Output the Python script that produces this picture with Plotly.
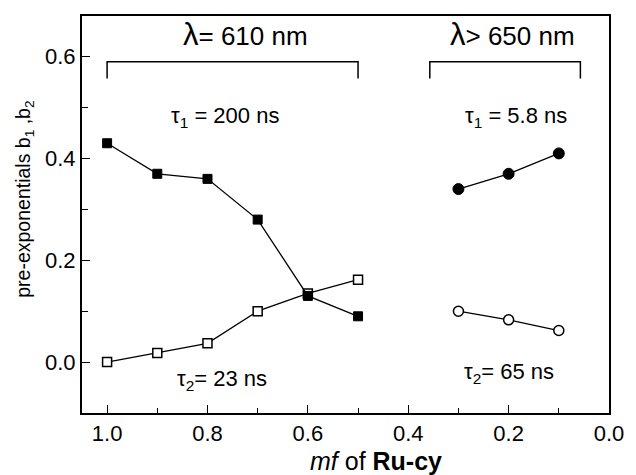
import plotly.graph_objects as go

# ---- data ----
mf_610 = [1.0, 0.9, 0.8, 0.7, 0.6, 0.5]
b1_610 = [0.43, 0.37, 0.36, 0.28, 0.13, 0.09]
b2_610 = [0.0, 0.018, 0.037, 0.10, 0.135, 0.162]

mf_650 = [0.3, 0.2, 0.1]
b1_650 = [0.34, 0.37, 0.41]
b2_650 = [0.10, 0.083, 0.062]

bracket_610_x = [1.0, 1.0, 0.5, 0.5]
bracket_650_x = [0.357, 0.357, 0.057, 0.057]
bracket_y = [0.557, 0.59, 0.59, 0.557]

x_ticks = [1.0, 0.8, 0.6, 0.4, 0.2, 0.0]
x_ticklabels = ["1.0", "0.8", "0.6", "0.4", "0.2", "0.0"]
y_ticks = [0.0, 0.2, 0.4, 0.6]
y_ticklabels = ["0.0", "0.2", "0.4", "0.6"]

FONT = "Liberation Sans, Arial, sans-serif"

fig = go.Figure()

line = dict(color="black", width=1.3)

fig.add_trace(go.Scatter(x=mf_610, y=b2_610, mode="lines+markers", line=line,
                         marker=dict(symbol="square", size=9, color="white",
                                     line=dict(color="black", width=1.5))))
fig.add_trace(go.Scatter(x=mf_610, y=b1_610, mode="lines+markers", line=line,
                         marker=dict(symbol="square", size=9, color="black",
                                     line=dict(color="black", width=1))))
fig.add_trace(go.Scatter(x=mf_650, y=b1_650, mode="lines+markers", line=line,
                         marker=dict(symbol="circle", size=11, color="black",
                                     line=dict(color="black", width=1))))
fig.add_trace(go.Scatter(x=mf_650, y=b2_650, mode="lines+markers", line=line,
                         marker=dict(symbol="circle", size=10, color="white",
                                     line=dict(color="black", width=1.5))))
for bx in (bracket_610_x, bracket_650_x):
    fig.add_trace(go.Scatter(x=bx, y=bracket_y, mode="lines",
                             line=dict(color="black", width=1.5)))

LAM = '<span style="font-size:31px">λ</span>'
ann = [
    (LAM + "= 610 nm", 0.725, 0.643, 26),
    (LAM + "> 650 nm", 0.192, 0.643, 26),
    ("τ<sub>1</sub> = 200 ns", 0.765, 0.482, 22),
    ("τ<sub>1</sub> = 5.8 ns", 0.186, 0.482, 22),
    ("τ<sub>2</sub>= 23 ns", 0.772, -0.036, 22),
    ("τ<sub>2</sub>= 65 ns", 0.20, -0.022, 22),
]
for t, x, y, s in ann:
    fig.add_annotation(x=x, y=y, text=t, showarrow=False, xref="x", yref="y",
                       font=dict(family=FONT, size=s, color="black"))

# axis titles placed as annotations (positions measured from reference,
# converted from pixels to plot-area paper coordinates)
L, R, T, B = 82, 616, 16, 413
fig.add_annotation(x=(380 - L) / (R - L), y=(B - 461) / (B - T),
                   xref="paper", yref="paper", xanchor="center", yanchor="middle",
                   text="<i>mf</i> of <b>Ru-cy</b>", showarrow=False,
                   font=dict(family=FONT, size=25, color="black"))
fig.add_annotation(x=(23 - L) / (R - L), y=(B - 199) / (B - T),
                   xref="paper", yref="paper", xanchor="center", yanchor="middle",
                   text="pre-exponentials b<sub>1</sub> ,b<sub>2</sub>", showarrow=False,
                   textangle=-90,
                   font=dict(family=FONT, size=19.5, color="black"))

axis_common = dict(showline=True, linecolor="black", linewidth=2, mirror=True,
                   ticks="inside", ticklen=8, tickwidth=1.3, tickcolor="black",
                   showgrid=False, zeroline=False,
                   tickfont=dict(family=FONT, size=22, color="black"))

fig.update_layout(
    width=636, height=475,
    margin=dict(l=L, r=636 - R, t=T, b=475 - B),
    paper_bgcolor="white", plot_bgcolor="white",
    showlegend=False,
    xaxis=dict(range=[1.05, 0.0], tickvals=x_ticks, ticktext=x_ticklabels,
               minor=dict(dtick=0.1, tick0=0, ticks="inside", ticklen=5,
                          tickwidth=1.3, tickcolor="black"),
               **axis_common),
    yaxis=dict(range=[-0.1, 0.68], tickvals=y_ticks, ticktext=y_ticklabels,
               minor=dict(dtick=0.1, tick0=0, ticks="inside", ticklen=6,
                          tickwidth=1.3, tickcolor="black"),
               **axis_common),
)

fig.write_html("out.html")
